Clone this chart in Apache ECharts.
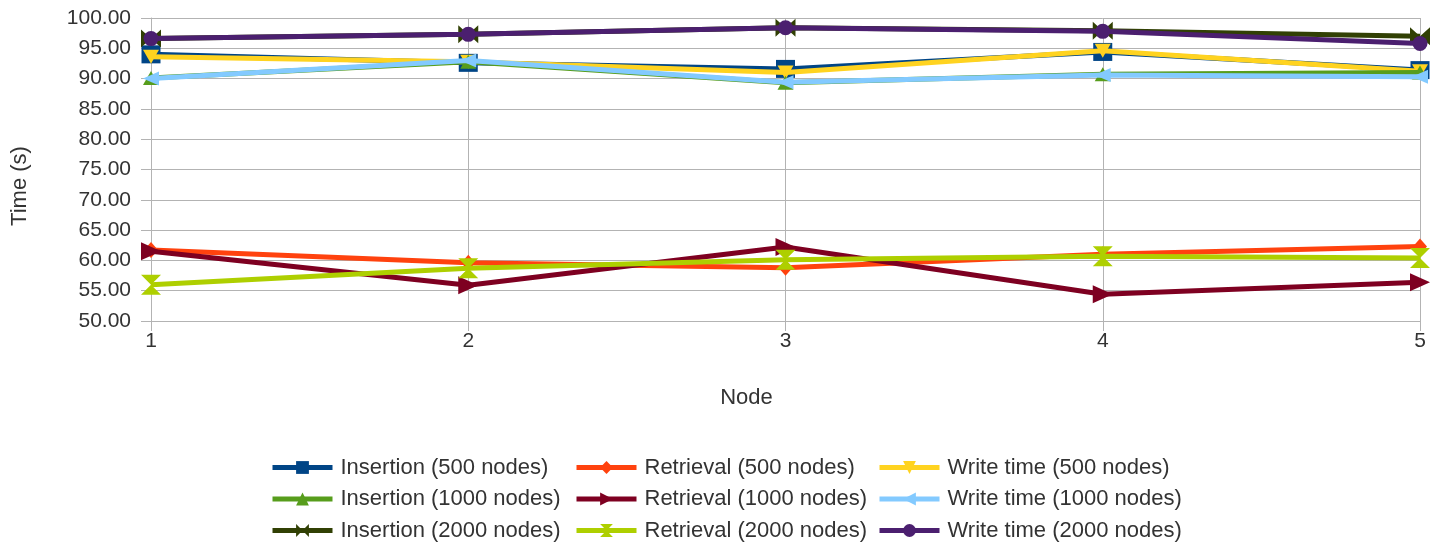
<!DOCTYPE html>
<html>
<head>
<meta charset="utf-8">
<script src="https://cdn.jsdelivr.net/npm/echarts@6/dist/echarts.min.js"></script>
<style>html,body{margin:0;padding:0;background:#fff}#c{width:1444px;height:546px}</style>
</head>
<body>
<div id="c"></div>
<script>
var categories = ['1', '2', '3', '4', '5'];
var yTicks = { min: 50, max: 100, step: 5 };
var insertion500 = [94.0, 92.6, 91.6, 94.4, 91.4];
var retrieval500 = [61.7, 59.6, 58.8, 61.0, 62.3];
var write500 = [93.6, 92.8, 91.0, 94.6, 91.2];
var insertion1000 = [90.1, 92.8, 89.3, 90.7, 91.0];
var retrieval1000 = [61.5, 55.9, 62.2, 54.4, 56.4];
var write1000 = [90.0, 93.0, 89.4, 90.6, 90.3];
var insertion2000 = [96.6, 97.3, 98.4, 97.9, 97.0];
var retrieval2000 = [56.0, 58.7, 60.1, 60.7, 60.4];
var write2000 = [96.6, 97.3, 98.4, 97.8, 95.8];

var seriesNames = [
  'Insertion (500 nodes)', 'Retrieval (500 nodes)', 'Write time (500 nodes)',
  'Insertion (1000 nodes)', 'Retrieval (1000 nodes)', 'Write time (1000 nodes)',
  'Insertion (2000 nodes)', 'Retrieval (2000 nodes)', 'Write time (2000 nodes)'
];
var seriesData = [insertion500, retrieval500, write500, insertion1000, retrieval1000, write1000, insertion2000, retrieval2000, write2000];
var colors = ['#004586', '#ff420e', '#ffd320', '#579d1c', '#7e0021', '#83caff', '#314004', '#aecf00', '#4b1f6f'];
var bowtie = 'path://M0,0 L10,5 L0,10 Z M20,0 L10,5 L20,10 Z';
var hourglass = 'path://M0,0 L20,0 L10,10 Z M0,20 L20,20 L10,10 Z';
var symbols = ['rect', 'diamond', 'triangle', 'triangle', 'triangle', 'triangle', bowtie, hourglass, 'circle'];
var rotates = [0, 0, 180, 0, -90, 90, 0, 0, 0];
var sizes = [[19, 18], [14, 16], [16, 14], [16, 14], [18, 20], [14, 16], [20, 18], [20, 20], [15, 15]];

var series = seriesNames.map(function (n, i) {
  return {
    name: n, type: 'line', data: seriesData[i],
    symbol: symbols[i], symbolRotate: rotates[i], symbolSize: sizes[i],
    showAllSymbol: true,
    lineStyle: { width: 5, color: colors[i] },
    itemStyle: { color: colors[i] },
    z: 2 + i
  };
});

var legendBase = {
  orient: 'vertical', top: 456.5, height: 100, padding: 0,
  itemWidth: 60, itemHeight: 16, itemGap: 9.5,
  lineStyle: { width: 5 },
  textStyle: { fontFamily: 'Liberation Sans', fontSize: 22, color: '#333', lineHeight: 22, padding: [0, 0, 0, 3] }
};
function legendCol(left, names) {
  return Object.assign({}, legendBase, { left: left, data: names });
}

var chart = echarts.init(document.getElementById('c'), null, { renderer: 'canvas' });
chart.setOption({
  animation: false,
  color: colors,
  textStyle: { fontFamily: 'Liberation Sans' },
  grid: { left: 151, right: 24, top: 18, bottom: 225, containLabel: false },
  legend: [
    legendCol(270, [seriesNames[0], seriesNames[3], seriesNames[6]]),
    legendCol(574, [seriesNames[1], seriesNames[4], seriesNames[7]]),
    legendCol(877, [seriesNames[2], seriesNames[5], seriesNames[8]])
  ],
  xAxis: {
    type: 'category', data: categories, boundaryGap: false,
    name: 'Node', nameLocation: 'middle', nameGap: 66,
    nameTextStyle: { fontFamily: 'Liberation Sans', fontSize: 22, color: '#333', padding: [0, 78, 0, 0] },
    axisLine: { lineStyle: { color: '#b3b3b3', width: 1 } },
    axisTick: { show: true, length: 10, inside: false, lineStyle: { color: '#b3b3b3' } },
    axisLabel: { fontFamily: 'Liberation Sans', fontSize: 21, color: '#333', margin: 10 },
    splitLine: { show: true, lineStyle: { color: '#b3b3b3', width: 1 } }
  },
  yAxis: {
    type: 'value', min: yTicks.min, max: yTicks.max, interval: yTicks.step,
    name: 'Time (s)', nameLocation: 'middle', nameGap: 120,
    nameTextStyle: { fontFamily: 'Liberation Sans', fontSize: 22, color: '#333', padding: [0, 33, 0, 0] },
    axisLine: { show: true, lineStyle: { color: '#b3b3b3', width: 1 } },
    axisTick: { show: true, length: 10, lineStyle: { color: '#b3b3b3' } },
    axisLabel: { fontFamily: 'Liberation Sans', fontSize: 21, color: '#333', margin: 20,
      formatter: function (v) { return v.toFixed(2); } },
    splitLine: { show: true, lineStyle: { color: '#b3b3b3', width: 1 } }
  },
  series: series
});
</script>
</body>
</html>
